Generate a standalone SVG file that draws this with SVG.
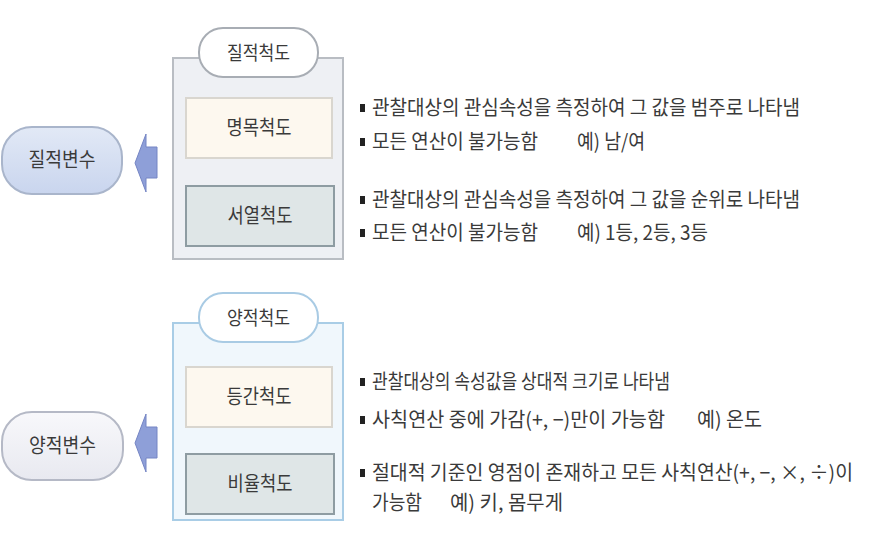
<svg xmlns="http://www.w3.org/2000/svg" width="884" height="551" viewBox="0 0 884 551">
<defs>
<style>
text{font-family:"Noto Sans CJK KR","Noto Sans CJK SC",sans-serif;fill:#3a3a3a;}
.lbl{font-size:20px;text-anchor:middle;}
.pl{font-size:19px;text-anchor:middle;}
.t{font-size:20px;}
.bul{fill:#222;}
.pillw{fill:#fff;stroke:#a8adb4;stroke-width:2;}
.pillb{fill:#fff;stroke:#a9cbe4;stroke-width:2;}
.arr{fill:#8e9fd8;stroke:#7585c4;stroke-width:1;}
</style>
<linearGradient id="gq" x1="0" y1="0" x2="0" y2="1">
<stop offset="0" stop-color="#e2e9f6"/><stop offset="1" stop-color="#c9d5ee"/>
</linearGradient>
<linearGradient id="gn" x1="0" y1="0" x2="0" y2="1">
<stop offset="0" stop-color="#f8f8fb"/><stop offset="1" stop-color="#e8e9f0"/>
</linearGradient>
</defs>
<rect width="884" height="551" fill="#fff"/>

<g id="qual-container">
<rect x="173" y="58" width="170" height="201" fill="#eef0f4" stroke="#b9bdc3" stroke-width="2"/>
</g>
<g id="qual-scale">
<rect class="pillw" x="199" y="28" width="119" height="49" rx="24"/>
<text class="pl" x="258.5" y="60" textLength="63" lengthAdjust="spacingAndGlyphs">질적척도</text>
</g>
<g id="nominal">
<rect x="186" y="98" width="146" height="60" fill="#fdf8ef" stroke="#d9d6cf" stroke-width="2"/>
<text class="lbl" x="259" y="135" textLength="65" lengthAdjust="spacingAndGlyphs">명목척도</text>
</g>
<g id="ordinal">
<rect x="186" y="186" width="148" height="60" fill="#dfe6e7" stroke="#8e9ca2" stroke-width="2"/>
<text class="lbl" x="260" y="223" textLength="65" lengthAdjust="spacingAndGlyphs">서열척도</text>
</g>
<g id="qual-var">
<rect x="2" y="127" width="120" height="67" rx="30" fill="url(#gq)" stroke="#a9b5cb" stroke-width="2"/>
<text class="lbl" x="62" y="167" textLength="67" lengthAdjust="spacingAndGlyphs">질적변수</text>
</g>

<g id="quan-container">
<rect x="173" y="323" width="170" height="197" fill="#f0f7fc" stroke="#a9cde6" stroke-width="2"/>
</g>
<g id="quan-scale">
<rect class="pillb" x="199" y="293" width="119" height="49" rx="24"/>
<text class="pl" x="258.5" y="325" textLength="63" lengthAdjust="spacingAndGlyphs">양적척도</text>
</g>
<g id="interval">
<rect x="186" y="367" width="146" height="60" fill="#fdf8ef" stroke="#d9d6cf" stroke-width="2"/>
<text class="lbl" x="259" y="404" textLength="65" lengthAdjust="spacingAndGlyphs">등간척도</text>
</g>
<g id="ratio">
<rect x="186" y="454" width="148" height="60" fill="#dfe6e7" stroke="#8e9ca2" stroke-width="2"/>
<text class="lbl" x="260" y="491" textLength="65" lengthAdjust="spacingAndGlyphs">비율척도</text>
</g>
<g id="quan-var">
<rect x="2" y="412" width="121" height="68" rx="30" fill="url(#gn)" stroke="#b5b9c6" stroke-width="2"/>
<text class="lbl" x="62.5" y="453" textLength="67" lengthAdjust="spacingAndGlyphs">양적변수</text>
</g>

<g id="connectors">
<path class="arr" d="M135,163 L146,134 L146,147 L157,147 L157,178 L146,178 L146,192 Z"/>
<path class="arr" d="M135,443 L146,414 L146,427 L157,427 L157,458 L146,458 L146,472 Z"/>
</g>

<g id="qual-desc">
<rect class="bul" x="360" y="104" width="5" height="8"/>
<text class="t" x="372" y="115" textLength="428" lengthAdjust="spacingAndGlyphs">관찰대상의 관심속성을 측정하여 그 값을 범주로 나타냄</text>
<rect class="bul" x="360" y="138" width="5" height="8"/>
<text class="t" x="372" y="149" textLength="166" lengthAdjust="spacingAndGlyphs">모든 연산이 불가능함</text>
<text class="t" x="577" y="149" textLength="68" lengthAdjust="spacingAndGlyphs">예) 남/여</text>
<rect class="bul" x="360" y="196" width="5" height="8"/>
<text class="t" x="372" y="207" textLength="428" lengthAdjust="spacingAndGlyphs">관찰대상의 관심속성을 측정하여 그 값을 순위로 나타냄</text>
<rect class="bul" x="360" y="229" width="5" height="8"/>
<text class="t" x="372" y="240" textLength="166" lengthAdjust="spacingAndGlyphs">모든 연산이 불가능함</text>
<text class="t" x="577" y="240" textLength="131" lengthAdjust="spacingAndGlyphs">예) 1등, 2등, 3등</text>
</g>

<g id="quan-desc">
<rect class="bul" x="360" y="378" width="5" height="8"/>
<text class="t" x="372" y="389" textLength="298" lengthAdjust="spacingAndGlyphs">관찰대상의 속성값을 상대적 크기로 나타냄</text>
<rect class="bul" x="360" y="416" width="5" height="8"/>
<text class="t" x="372" y="427" textLength="293" lengthAdjust="spacingAndGlyphs">사칙연산 중에 가감(+, −)만이 가능함</text>
<text class="t" x="697" y="427" textLength="65" lengthAdjust="spacingAndGlyphs">예) 온도</text>
<rect class="bul" x="360" y="469" width="5" height="8"/>
<text class="t" x="372" y="480" textLength="481" lengthAdjust="spacingAndGlyphs">절대적  기준인  영점이  존재하고  모든  사칙연산(+, −, ×, ÷)이</text>
<text class="t" x="372" y="510" textLength="50" lengthAdjust="spacingAndGlyphs">가능함</text>
<text class="t" x="450" y="510" textLength="113" lengthAdjust="spacingAndGlyphs">예) 키, 몸무게</text>
</g>
</svg>
